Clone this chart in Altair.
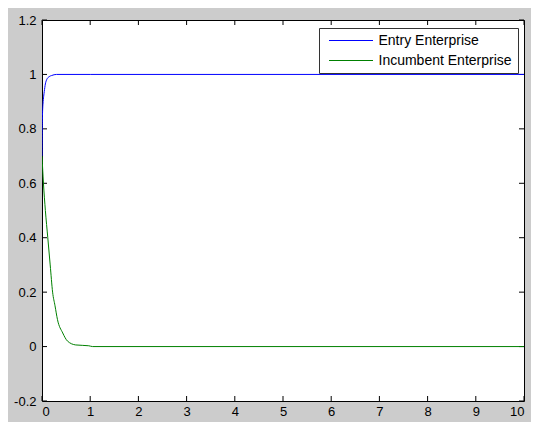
import altair as alt
import pandas as pd

# Entry enterprise (blue)
entry_x = [0.0, 0.005, 0.01, 0.02, 0.035, 0.047, 0.07, 0.1, 0.15, 0.2, 0.3, 1.0, 5.0, 10.0]
entry_y = [0.70, 0.80, 0.85, 0.89, 0.92, 0.937, 0.965, 0.982, 0.992, 0.996, 1.0, 1.0, 1.0, 1.0]
# Incumbent enterprise (green)
inc_x = [0.0, 0.03, 0.07, 0.12, 0.17, 0.22, 0.27, 0.32, 0.43, 0.53, 0.7, 0.97, 1.05, 5.0, 10.0]
inc_y = [0.70, 0.60, 0.50, 0.40, 0.30, 0.20, 0.15, 0.10, 0.05, 0.02, 0.006, 0.003, 0.0, 0.0, 0.0]

series_names = ["Entry Enterprise", "Incumbent Enterprise"]
series_colors = ["#0000ff", "#008000"]

x_ticks = [0, 1, 2, 3, 4, 5, 6, 7, 8, 9, 10]
y_ticks = [-0.2, 0, 0.2, 0.4, 0.6, 0.8, 1, 1.2]

W, H = 482, 381
TL = 5

df = pd.concat([
    pd.DataFrame({"x": entry_x, "y": entry_y, "s": series_names[0], "o": range(len(entry_x))}),
    pd.DataFrame({"x": inc_x, "y": inc_y, "s": series_names[1], "o": range(len(inc_x))}),
])

xs = alt.Scale(domain=[0, 10], nice=False, zero=False)
ys = alt.Scale(domain=[-0.2, 1.2], nice=False, zero=False)

lab = dict(labelFont="Liberation Sans", labelFontSize=13, labelColor="#000000",
           ticks=False, domain=False, grid=False, title=None)

lines = alt.Chart(df).mark_line(strokeWidth=1, clip=True, interpolate="monotone").encode(
    x=alt.X("x:Q", scale=xs, axis=alt.Axis(values=x_ticks, labelPadding=4,
                                            labelExpr="'' + datum.value", **lab)),
    y=alt.Y("y:Q", scale=ys, axis=alt.Axis(values=y_ticks, labelPadding=6,
                                            labelExpr="'' + datum.value", **lab)),
    color=alt.Color("s:N", scale=alt.Scale(domain=series_names, range=series_colors),
                    legend=alt.Legend(title=None, orient="none", legendX=277, legendY=8,
                                      symbolType="M-4,0H4", symbolSize=121, symbolStrokeWidth=1,
                                      symbolOffset=19.5, labelOffset=20.5,
                                      labelFont="Liberation Sans", labelFontSize=14,
                                      labelColor="#000000", fillColor="#ffffff",
                                      strokeColor="#333333", padding=5.5, rowPadding=6,
                                      offset=0)),
    order="o:Q",
)

xt = pd.DataFrame({"t": x_ticks})
yt = pd.DataFrame({"t": y_ticks})

xb = alt.Chart(xt).mark_rule(color="#000000", strokeWidth=1).encode(
    x=alt.X("t:Q", scale=xs), y=alt.value(H), y2=alt.value(H - TL))
xtop = alt.Chart(xt).mark_rule(color="#000000", strokeWidth=1).encode(
    x=alt.X("t:Q", scale=xs), y=alt.value(0), y2=alt.value(TL))
yl = alt.Chart(yt).mark_rule(color="#000000", strokeWidth=1).encode(
    y=alt.Y("t:Q", scale=ys), x=alt.value(0), x2=alt.value(TL))
yr = alt.Chart(yt).mark_rule(color="#000000", strokeWidth=1).encode(
    y=alt.Y("t:Q", scale=ys), x=alt.value(W), x2=alt.value(W - TL))

chart = alt.layer(xb, xtop, yl, yr, lines).properties(
    width=W, height=H,
    autosize=alt.AutoSizeParams(type="none"),
    padding={"left": 34, "top": 12, "right": 7, "bottom": 21},
    background="#cccccc",
).configure_view(fill="#ffffff", stroke="#000000", strokeWidth=1)

chart.save("out.html", embed_options={"renderer": "svg", "actions": False})
